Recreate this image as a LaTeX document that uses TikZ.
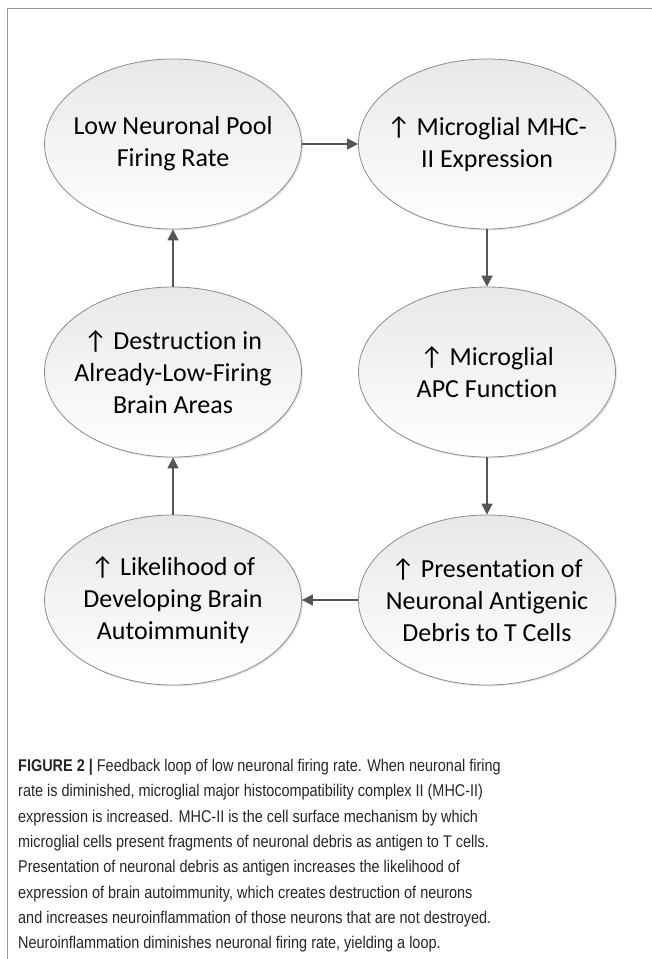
\documentclass[tikz,border=0pt]{standalone}
\usepackage{fontspec}
\setmainfont[Ligatures=NoCommon]{Carlito}
\newfontfamily\capfont[FakeStretch=0.85]{Liberation Sans}
\usetikzlibrary{shapes.geometric,arrows.meta,shadows}
\newcommand{\uparr}{↑}
\definecolor{framegray}{RGB}{150,150,150}
\definecolor{edgegray}{RGB}{140,140,140}
\definecolor{arrowgray}{RGB}{85,85,85}
\tikzset{
  bubble/.style={ellipse, draw=edgegray, line width=0.8pt, top color=black!9, bottom color=white,
    minimum width=257pt, minimum height=170pt, inner xsep=-30pt, inner ysep=-10pt, align=center,
    font=\fontsize{26}{32}\selectfont,
    drop shadow={shadow xshift=1.5pt, shadow yshift=-1.5pt, opacity=0.25, fill=black!40}},
  conn/.style={draw=arrowgray, line width=1.6pt, -{Triangle[length=11pt,width=11pt]}}
}
\begin{document}
\begin{tikzpicture}[x=1pt,y=-1pt]
\useasboundingbox (0,0) rectangle (651,959);
\draw[framegray, line width=1pt] (7,965) -- (7,8) -- (660,8);
\node[bubble] (a) at (173,144) {Low Neuronal Pool\\Firing Rate};
\node[bubble] (b) at (487,144) {\uparr{} Microglial MHC-\\II Expression};
\node[bubble] (c) at (487,372) {\uparr{} Microglial\\APC Function};
\node[bubble] (d) at (487,600) {\uparr{} Presentation of\\Neuronal Antigenic\\Debris to T Cells};
\node[bubble] (e) at (173,600) {\uparr{} Likelihood of\\Developing Brain\\Autoimmunity};
\node[bubble] (f) at (173,372) {\uparr{} Destruction in\\Already-Low-Firing\\Brain Areas};
\draw[conn] (a) -- (b);
\draw[conn] (b) -- (c);
\draw[conn] (c) -- (d);
\draw[conn] (d) -- (e);
\draw[conn] (e) -- (f);
\draw[conn] (f) -- (a);
\node[anchor=north west, align=left, inner sep=0pt, font=\capfont\fontsize{17}{25.3}\selectfont, text=black!85] (cap) at (18,759)
{\textbf{FIGURE 2 |} Feedback loop of low neuronal firing rate. When neuronal firing\\
rate is diminished, microglial major histocompatibility complex II (MHC-II)\\
expression is increased. MHC-II is the cell surface mechanism by which\\
microglial cells present fragments of neuronal debris as antigen to T cells.\\
Presentation of neuronal debris as antigen increases the likelihood of\\
expression of brain autoimmunity, which creates destruction of neurons\\
and increases neuroinflammation of those neurons that are not destroyed.\\
Neuroinflammation diminishes neuronal firing rate, yielding a loop.};
\end{tikzpicture}
\end{document}
